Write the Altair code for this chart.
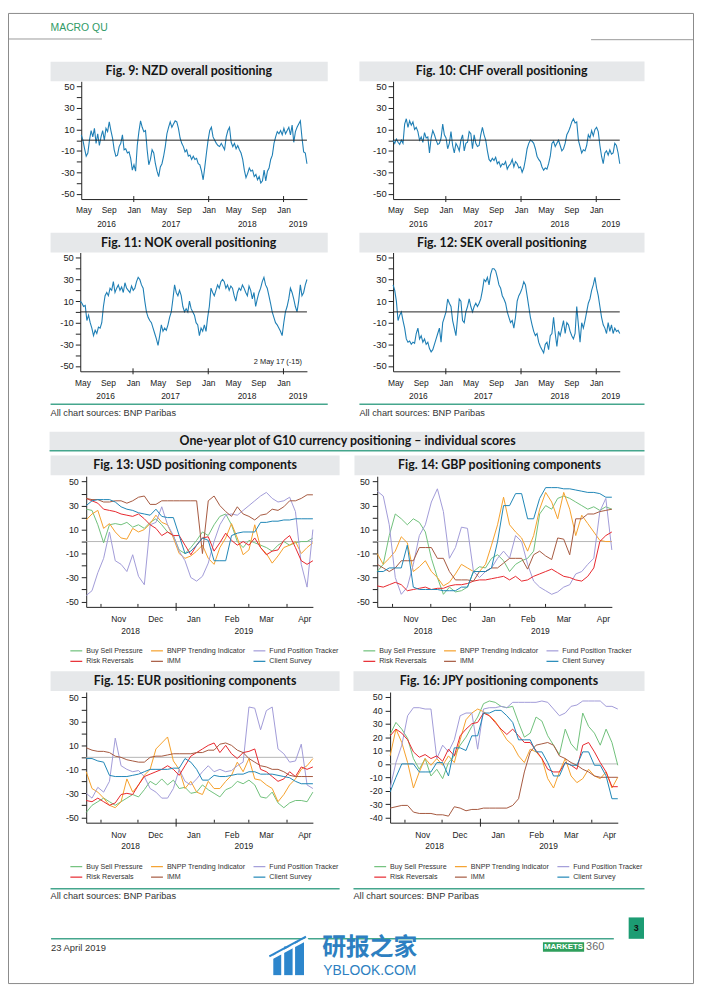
import altair as alt
import pandas as pd

# ---------------- data ----------------
OVERALL_START = "2016-04-20"
OVERALL_END = "2019-04-25"
COMP_START = "2018-10-20"
COMP_END = "2019-04-22"

nzd_values = [5, 0, -8, -15, -12, 0, 9, 3, 11, -3,
              6, -5, 3, 9, 0, 11, 8, 17, 9, 2,
              -9, -15, -14, -6, -3, 5, -9, -8, -12, -11,
              -17, -28, -23, -29, -5, 8, 18, 12, 8, 9,
              -9, -23, -18, -9, -12, -22, -29, -34, -25, -22,
              -15, -6, 6, 12, 17, 12, 15, 18, 17, 11,
              2, -3, -6, -11, -9, -15, -14, -18, -15, -18,
              -17, -22, -23, -29, -37, -25, -12, 0, 9, 12,
              3, 0, -3, -5, -6, -3, -6, -9, 3, 9,
              12, -2, -6, -3, -8, -5, -9, -12, -18, -28,
              -35, -31, -26, -29, -28, -34, -32, -37, -34, -40,
              -38, -28, -38, -29, -26, -18, -14, -3, 3, 8,
              6, 9, 5, 11, 6, 9, 12, 5, 14, -2,
              8, 12, 15, 18, 2, -11, -12, -22]

chf_values = [0, -3, 1, -2, -4, 0, -3, 15, 20, 12,
              18, 14, 17, 10, 12, 8, 0, 3, -2, 7,
              2, 3, -12, 2, 9, 5, 0, -4, -3, 2,
              15, 5, 2, -8, -3, 8, -5, -12, -3, -6,
              -10, 0, 5, -10, -3, -2, 8, 6, -8, 5,
              -3, -6, -5, 5, 12, 5, 0, -10, -18, -20,
              -17, -19, -16, -22, -20, -25, -22, -23, -20, -27,
              -24, -22, -18, -25, -20, -22, -26, -25, -30, -26,
              -18, -8, -3, 0, -1, -3, -8, -15, -18, -20,
              -25, -28, -26, -27, -22, -15, -3, -1, -6, -3,
              0, -5, -10, -8, -3, 5, 8, 12, 17, 20,
              16, 17, 0, -6, -12, -9, -10, -5, 5, 2,
              9, 4, 10, 12, 8, -5, -15, -22, -12, -10,
              -14, -9, -13, -12, -3, -5, -12, -22]

nok_values = [10, 8, 5, 6, -8, -3, -10, -15, -22, -17,
              -20, -14, -15, -10, 5, 15, 18, 15, 22, 20,
              28, 18, 22, 25, 20, 23, 18, 27, 22, 20,
              18, 24, 20, 22, 28, 32, 30, 25, 22, 10,
              0, -5, -8, -10, -15, -20, -25, -31, -22, -12,
              -18, -15, -17, -12, -5, 0, 12, 25, 18, 15,
              20, 15, 5, 0, 3, 0, 10, 3, 0, -3,
              -10, -12, -22, -15, -18, -12, -18, -5, 5, 22,
              18, 15, 20, 25, 22, 28, 30, 28, 22, 25,
              20, 24, 22, 15, 10, 18, 22, 20, 25, 22,
              18, 15, 24, 20, 12, 18, 5, 12, 18, 22,
              28, 32, 25, 22, 15, 8, 0, -5, -10, -12,
              -15, -18, -22, -10, 0, 5, 12, 22, 18, 12,
              5, 0, 10, 25, 15, 18, 25, 30]

sek_values = [25, 20, 10, -8, -3, 0, -8, -15, -25, -28,
              -27, -30, -28, -29, -20, -15, -25, -22, -28, -25,
              -30, -28, -34, -37, -35, -30, -25, -20, -15, -28,
              -10, -5, 0, 12, 8, 5, -8, -15, -22, -5,
              12, 10, -8, -10, 0, 5, 12, 5, 0, 5,
              8, 5, 8, 12, 20, 30, 28, 32, 25, 35,
              40, 40, 38, 32, 25, 22, 15, 12, 8, 0,
              -5, -10, -8, -15, -5, 10, 15, 18, 22, 28,
              25, 15, 5, -5, -12, -18, -22, -20, -28, -32,
              -35, -38, -30, -28, -35, -22, -20, -5, -20, -32,
              -18, -22, -15, -8, -20, -10, -12, -18, -22, -25,
              -20, 5, -12, -28, -10, -15, -8, 0, 8, 12,
              20, 25, 32, 22, 15, 5, -5, -12, -15, -20,
              -10, -18, -12, -20, -15, -18, -17, -20]

overall_month_ticks = ["2016-05-01", "2016-09-01", "2017-01-01", "2017-05-01", "2017-09-01",
                       "2018-01-01", "2018-05-01", "2018-09-01", "2019-01-01"]
overall_year_labels = ["2016", "2017", "2018", "2019"]
overall_year_dates = ["2016-08-21", "2017-07-02", "2018-07-08", "2019-03-13"]
overall_jan_ticks = ["2017-01-01", "2018-01-01", "2019-01-01"]

comp_month_ticks = ["2018-11-15", "2018-12-15", "2019-01-15", "2019-02-15", "2019-03-15", "2019-04-15"]
comp_month_starts = ["2018-11-01", "2018-12-01", "2019-02-01", "2019-03-01", "2019-04-01"]
comp_jan_ticks = ["2019-01-01"]
comp_year_labels = ["2018", "2019"]
comp_year_dates = ["2018-11-25", "2019-02-25"]

comp_names = ["Buy Sell Pressure", "BNPP Trending Indicator", "Fund Position Tracker",
              "Risk Reversals", "IMM", "Client Survey"]
comp_colors = ["#6fc07a", "#f5a02a", "#a19bd8", "#e7262d", "#a5583f", "#1e86b6"]
# legend entries fill column by column: order them so rows read as in the reference
legend_order = [0, 3, 1, 4, 2, 5]

usd_bsp = [27, 26, 14, -1, 14, 15, 14, 16, 12, 14, 11, 16, 19, 14, 8, 5, -7, -10, -5, 1,
           8, 5, 14, 21, 23, 14, 0, -5, 1, -1, -3, -5, -8, -3, 0, -3, -1, 0, 0, 3]
usd_bnpp = [18, 23, 26, 11, 15, 8, 3, 2, 11, 8, 10, 15, 22, 16, 14, 3, -10, -14, -12, -8,
            -3, -14, -19, -5, 3, 15, 3, -11, -7, 14, -5, -10, -18, -12, -5, -3, 0, -10, -5, -1]
usd_fpt = [-45, -41, -26, -14, 8, -16, -19, -25, -11, -29, -36, 14, 16, 29, 14, 5, -8, -16, -30, -33,
           -29, -18, 0, 14, 22, 23, 22, 26, 30, 34, 38, 41, 36, 33, 34, 37, 25, -19, -38, 10]
usd_rr = [36, 34, 32, 27, 26, 25, 23, 22, 21, 23, 19, 14, 11, 5, 8, 5, 5, -3, -11, -3,
          3, 4, -8, -1, 7, 1, -3, 0, -3, 3, -5, -11, -8, -7, 1, 5, -5, -16, -19, -16]
usd_imm = [36, 35, 35, 33, 33, 34, 34, 32, 34, 37, 38, 31, 31, 34, 34, 34, 34, 34, 34, 34,
           -10, 34, 38, 30, 25, 21, 29, 23, 21, 18, 22, 23, 27, 26, 29, 34, 34, 36, 39, 39]
usd_cs = [30, 34, 35, 35, 35, 33, 29, 27, 26, 24, 23, 22, 27, 21, 20, 20, 5, -10, -8, -3,
          3, 1, -16, -16, -16, 5, 7, 8, 8, 8, 16, 16, 17, 17, 18, 18, 19, 19, 19, 19]

gbp_bsp = [-25, -19, 5, 23, 19, 14, 19, 16, 8, -14, -30, -44, -38, -42, -41, -38, -25, -21, -22, -14,
           -11, -16, -25, -19, -16, -14, -8, 23, 30, 27, 36, 38, 36, 33, 30, 27, 29, 26, 29, 27]
gbp_bnpp = [-10, -19, -14, -8, 4, -1, -25, -21, -16, -25, -30, -37, -34, -27, -19, -22, -25, -25, -19, -3,
            14, 37, 14, 8, 3, -8, 5, 27, 41, 33, 19, 41, 27, 5, 22, 15, 8, 1, 0, 0]
gbp_fpt = [42, 38, 14, -30, -44, -38, -19, 5, 14, 33, 44, 25, -14, -5, 12, 11, -25, -30, -25, -22,
           -14, -8, -14, 5, 0, -19, -33, -38, -41, -44, -42, -38, -36, -27, -25, -19, -14, 25, 36, -7]
gbp_rr = [-37, -38, -36, -34, -36, -41, -40, -39, -38, -40, -39, -39, -37, -36, -36, -35, -33, -32, -32, -31,
          -30, -29, -32, -29, -33, -32, -29, -27, -25, -23, -26, -29, -30, -32, -33, -29, -22, 0, 5, 8]
gbp_imm = [-19, -22, -25, -22, -16, -16, -16, -5, -5, -5, -14, -14, -25, -32, -32, -32, -33, -25, -25, -22,
           -22, -18, -14, -14, -14, -23, -11, -8, -12, -15, 3, 2, -11, 19, 19, 23, 23, 25, 26, 27]
gbp_cs = [-25, -25, -22, -22, -22, -3, -38, -40, -40, -40, -40, -41, -41, -41, -38, -38, -25, -25, -25, -22,
          0, 30, 30, 40, 40, 19, 19, 36, 45, 45, 45, 44, 44, 43, 42, 41, 41, 40, 37, 37]

eur_bsp = [-46, -40, -37, -34, -37, -40, -37, -34, -31, -33, -27, -20, -23, -18, -23, -19, -26, -25, -30, -29,
           -23, -27, -30, -33, -27, -25, -20, -22, -19, -23, -33, -34, -29, -38, -42, -38, -36, -36, -37, -29]
eur_bnpp = [-12, -26, -29, -34, -40, -42, -37, -18, -29, -23, -15, -10, 7, 12, 17, -3, -10, -26, -20, -29,
            -31, -20, -26, -26, -20, -15, -4, -12, -1, -18, -19, -23, -26, -37, -31, -23, -18, -10, -7, -1]
eur_fpt = [-30, -34, -25, -29, -20, 16, -7, -10, -12, -11, -16, -26, -29, -34, -34, -26, -10, -20, -23, -18,
           -12, -7, -12, -10, -12, -11, -7, -4, 42, 41, 23, 39, 42, 7, 3, -4, -3, 11, -23, -26]
eur_rr = [-36, -37, -34, -37, -40, -38, -31, -30, -31, -23, -16, -14, -12, -10, -7, -10, -15, -7, 1, 4,
          7, 10, 12, 4, 10, 3, -1, 4, 5, 7, -10, -12, -16, -20, -18, -12, -16, -8, -10, -8]
eur_imm = [8, 6, 5, 5, 4, 1, 0, -2, -3, -4, -4, 0, 1, 1, 2, 3, 3, 3, 3, 4,
           4, 6, 6, 11, 12, 10, 6, 4, -1, -4, -7, -8, -10, -10, -12, -15, -16, -16, -16, -16]
eur_cs = [-1, -1, -3, -4, -15, -16, -16, -16, -15, -14, -12, -10, -10, -10, -10, -9, -9, -1, -4, -10,
          -19, -19, -15, -16, -16, -15, -14, -14, -12, -12, -14, -14, -14, -15, -16, -17, -20, -22, -22, -22]

jpy_bsp = [22, 31, 26, 19, 4, -4, 4, -9, -4, -11, 1, 6, 14, 20, 28, 35, 45, 47, 46, 43,
           42, 43, 31, 20, 23, 35, 32, 21, 14, 7, 26, 15, 10, 38, 28, 23, 14, 26, 16, -1]
jpy_bnpp = [6, 26, 16, 1, -18, -6, 4, -1, 4, -1, 6, 1, 18, 33, 38, 41, 39, 36, 32, 25,
            18, 14, 6, 1, 11, 9, 4, -11, -18, -6, 4, -9, -14, -11, -4, -9, -11, -6, -18, -10]
jpy_fpt = [-18, 1, 14, 36, 42, 42, 41, 41, 4, 14, 9, 18, 36, 38, 38, 11, 41, 42, 42, 43,
           42, 46, 46, 46, 46, 46, 47, 46, 41, 36, 38, 43, 44, 47, 47, 47, 47, 43, 43, 41]
jpy_rr = [21, 26, 23, 18, 9, 5, 7, 4, 6, 2, 11, 6, 21, 26, 30, 31, 38, 36, 31, 26,
          22, 26, 21, 16, 16, 10, 4, -4, -6, -6, 1, -1, -4, 14, 16, 9, 1, -6, -17, -17]
jpy_imm = [-33, -32, -31, -31, -36, -37, -37, -37, -38, -38, -39, -32, -33, -35, -34, -34, -33, -33, -33, -33,
           -33, -31, -26, -6, 9, 14, 15, 16, 14, 6, 4, 1, -1, -4, -6, -9, -10, -10, -10, -10]
jpy_cs = [-21, -10, 0, 0, 0, -6, -6, -6, 1, 1, -9, 12, 12, 10, 21, 21, 38, 38, 40, 40,
          36, 31, 18, 18, 18, 9, 9, 1, -9, -9, 1, -1, -1, 9, 9, -1, -1, -9, -26, -26]

titles = ["Fig. 9: NZD overall positioning", "Fig. 10: CHF overall positioning",
          "Fig. 11: NOK overall positioning", "Fig. 12: SEK overall positioning",
          "Fig. 13: USD positioning components", "Fig. 14: GBP positioning components",
          "Fig. 15: EUR positioning components", "Fig. 16: JPY positioning components"]
section_title = "One-year plot of G10 currency positioning \u2013 individual scores"
source_text = "All chart sources: BNP Paribas"

# ---------------- styling ----------------
AX_FONT = "Liberation Sans"
TITLE_FONT = "Lato"
INK = "#222222"
BOX_FILL = "#e6e8ea"
TEAL = "#45a68d"
LINE_BLUE = "#1f7fb5"


def dt(s):
    y, m, d = (int(p) for p in s.split("-"))
    return alt.DateTime(year=y, month=m, date=d)


def one(text=""):
    return pd.DataFrame({"t": [text]})


def d_rect(o, x1, y1, x2, y2, **kw):
    return alt.Chart(one()).mark_rect(**kw).encode(
        x=alt.value(x1 - o[0]), x2=alt.value(x2 - o[0]),
        y=alt.value(y1 - o[1]), y2=alt.value(y2 - o[1]))


def d_rule(o, x1, y1, x2, y2, **kw):
    return alt.Chart(one()).mark_rule(**kw).encode(
        x=alt.value(x1 - o[0]), x2=alt.value(x2 - o[0]),
        y=alt.value(y1 - o[1]), y2=alt.value(y2 - o[1]))


def d_text(o, x, y, text, **kw):
    kw.setdefault("baseline", "middle")
    return alt.Chart(one(text)).mark_text(**kw).encode(
        x=alt.value(x - o[0]), y=alt.value(y - o[1]), text="t:N")


def title_box(o, x1, x2, y1, y2, tx, text):
    return [d_rect(o, x1, y1, x2, y2, color=BOX_FILL),
            d_text(o, tx, (y1 + y2) / 2, text, font=TITLE_FONT, fontWeight="bold",
                   fontSize=12.5, color="#151515")]


def sources(o, x1, x2, y_line, y_text):
    return [d_rule(o, x1, y_line, x2, y_line, color=TEAL, strokeWidth=1.5),
            d_text(o, x1, y_text, source_text, align="left", font=AX_FONT,
                   fontSize=9.3, color="#333333")]


def x_axis_def(month_values, pad):
    return alt.Axis(values=[dt(s) for s in month_values], format="%b", formatType="time",
                    labelAngle=0, ticks=False, grid=False, title=None, domainColor=INK,
                    domainWidth=1, labelColor=INK, labelFont=AX_FONT, labelFontSize=8.5,
                    labelPadding=pad, labelFlush=False, labelOverlap=False, labelBound=False)


def y_axis_def(values, expr, pad, size):
    return alt.Axis(values=values, labelExpr=expr, tickSize=5, tickColor=INK, tickWidth=1,
                    domainColor=INK, domainWidth=1, grid=False, title=None, labelFont=AX_FONT,
                    labelFontSize=size, labelColor=INK, labelPadding=pad)


def overall_panel(vals, w, h, deco):
    dates = pd.date_range(OVERALL_START, OVERALL_END, periods=len(vals))
    df = pd.DataFrame({"date": dates, "value": vals})
    xs = alt.Scale(domain=[dt(OVERALL_START), dt(OVERALL_END)])
    ys = alt.Scale(domain=[-55, 55], nice=False, zero=False)
    xa = x_axis_def(overall_month_ticks, 7)
    ya = y_axis_def(list(range(-50, 51, 10)),
                    "datum.value % 20 == 0 ? '' : toString(datum.value)", 2, 9.5)
    line = alt.Chart(df).mark_line(color=LINE_BLUE, strokeWidth=1.1).encode(
        x=alt.X("date:T", scale=xs, axis=xa),
        y=alt.Y("value:Q", scale=ys, axis=ya))
    zero = alt.Chart(pd.DataFrame({"value": [0]})).mark_rule(color=INK, strokeWidth=1).encode(
        y=alt.Y("value:Q", scale=ys, axis=ya))
    jan = alt.Chart(pd.DataFrame({"date": pd.to_datetime(overall_jan_ticks)})).mark_rule(
        color=INK).encode(x=alt.X("date:T", scale=xs, axis=xa),
                          y=alt.value(h - 3), y2=alt.value(h + 3))
    years = alt.Chart(pd.DataFrame({"date": pd.to_datetime(overall_year_dates),
                                    "label": overall_year_labels})).mark_text(
        font=AX_FONT, fontSize=8.5, color=INK, baseline="middle").encode(
        x=alt.X("date:T", scale=xs, axis=xa), y=alt.value(h + 25), text="label:N")
    return alt.layer(line, zero, jan, years, *deco).properties(width=w, height=h)


def comp_panel(series, w, h, ydom, yvals, label_all, legend_x, deco):
    dates = pd.date_range(COMP_START, COMP_END, periods=len(series[0]))
    rows = []
    for name, vals in zip(comp_names, series):
        for d, v in zip(dates, vals):
            rows.append({"date": d, "series": name, "value": v})
    df = pd.DataFrame(rows)
    xs = alt.Scale(domain=[dt(COMP_START), dt(COMP_END)])
    ys = alt.Scale(domain=ydom, nice=False, zero=False)
    xa = x_axis_def(comp_month_ticks, 8)
    lab = "toString(datum.value)" if label_all else \
        "datum.value % 20 == 0 ? '' : toString(datum.value)"
    ya = y_axis_def(yvals, lab, 3, 9)
    legend = alt.Legend(orient="none", legendX=legend_x, legendY=169, columns=3, title=None,
                        symbolType="stroke", symbolSize=144, symbolStrokeWidth=1.2,
                        labelFont=AX_FONT, labelFontSize=7.2, labelColor="#333333",
                        labelOffset=3, columnPadding=4.5, rowPadding=0, padding=0)
    zero = alt.Chart(pd.DataFrame({"value": [0]})).mark_rule(color="#b5b5b5", strokeWidth=1).encode(
        y=alt.Y("value:Q", scale=ys, axis=ya))
    dom = [comp_names[i] for i in legend_order]
    rng = [comp_colors[i] for i in legend_order]
    line = alt.Chart(df).mark_line(strokeWidth=1).encode(
        x=alt.X("date:T", scale=xs, axis=xa),
        y=alt.Y("value:Q", scale=ys, axis=ya),
        color=alt.Color("series:N", scale=alt.Scale(domain=dom, range=rng),
                        sort=dom, legend=legend))
    mticks = alt.Chart(pd.DataFrame({"date": pd.to_datetime(comp_month_starts)})).mark_rule(
        color=INK).encode(x=alt.X("date:T", scale=xs, axis=xa),
                          y=alt.value(h - 3), y2=alt.value(h))
    jan = alt.Chart(pd.DataFrame({"date": pd.to_datetime(comp_jan_ticks)})).mark_rule(
        color=INK).encode(x=alt.X("date:T", scale=xs, axis=xa),
                          y=alt.value(h - 4), y2=alt.value(h + 4))
    years = alt.Chart(pd.DataFrame({"date": pd.to_datetime(comp_year_dates),
                                    "label": comp_year_labels})).mark_text(
        font=AX_FONT, fontSize=8.5, color=INK, baseline="middle").encode(
        x=alt.X("date:T", scale=xs, axis=xa), y=alt.value(h + 24), text="label:N")
    return alt.layer(zero, line, mticks, jan, years, *deco).properties(width=w, height=h)


# ---------------- panels ----------------
O9, O10, O11, O12 = (82, 77), (397, 77), (81, 250), (397, 250)
O13, O14, O15, O16 = (87, 476), (381, 476), (87, 694), (394, 694)

page_deco = [
    d_rect(O9, 8.5, 8.5, 700.5, 988.5, filled=False, stroke="#8a8a8a", strokeWidth=1),
    d_text(O9, 51, 23.5, "MACRO QU", align="left", font=AX_FONT, fontSize=10.5, color="#2f9a66"),
    d_rule(O9, 9, 34.3, 103, 34.3, color="#9a9a9a", strokeWidth=1),
    d_rule(O9, 597, 35, 700, 35, color="#9a9a9a", strokeWidth=1),
    d_rule(O9, 51.5, 943.3, 620, 943.3, color=TEAL, strokeWidth=1.5),
    d_text(O9, 51.5, 952.7, "23 April 2019", align="left", font=AX_FONT, fontSize=9.5,
           color="#333333"),
    d_rect(O9, 635, 921.7, 650.5, 943.3, color="#1c9c73"),
    d_text(O9, 642.7, 932.5, "3", font=AX_FONT, fontWeight="bold", fontSize=9, color="#111111"),
    d_rect(O9, 548.4, 946.7, 590, 956.5, color="#2f9f5c"),
    d_text(O9, 569.2, 951.8, "MARKETS", font=AX_FONT, fontWeight="bold", fontSize=8,
           color="white"),
    d_text(O9, 592, 951.8, "360", align="left", font=AX_FONT, fontSize=11, color="#6a6a6a"),
    d_rect(O9, 276, 959, 284, 980, color="#2d86cc"),
    d_rect(O9, 287, 951, 295.5, 980, color="#2d86cc"),
    d_rect(O9, 298, 946, 307, 980, color="#2d86cc"),
    d_rule(O9, 272, 964, 311, 943, color="white", strokeWidth=3),
    d_rule(O9, 272, 961, 309, 941, color="#2d86cc", strokeWidth=2),
    d_text(O9, 373.5, 952.5, "研报之家", font="Noto Sans CJK SC", fontWeight="bold",
           fontSize=24, color="#2d7fc1"),
    d_text(O9, 373.5, 975.5, "YBLOOK.COM", font=AX_FONT, fontSize=14, color="#2d7fc1"),
]

fig9 = overall_panel(nzd_values, 228, 119,
                     title_box(O9, 51, 331, 57.3, 77, 190.7, titles[0]) + page_deco)
fig10 = overall_panel(chf_values, 229, 119,
                      title_box(O10, 363, 651, 57, 77, 506.7, titles[1]))
fig11 = overall_panel(nok_values, 229, 120,
                      title_box(O11, 51, 331, 230, 250, 190.5, titles[2])
                      + sources(O11, 51, 331, 403.3, 411.7)
                      + [d_text(O11, 305, 361, "2 May 17 (-15)", align="right", font=AX_FONT,
                                fontSize=7.5, color="#222222")])
fig12 = overall_panel(sek_values, 229, 120,
                      title_box(O12, 363, 651, 230, 250, 506.8, titles[3])
                      + sources(O12, 363, 651, 403.3, 411.7))

section_deco = [
    d_rect(O13, 50, 431, 651, 450, color=BOX_FILL),
    d_rule(O13, 50, 450.3, 651, 450.3, color=TEAL, strokeWidth=1.5),
    d_text(O13, 351, 440.5, section_title, font=TITLE_FONT, fontWeight="bold", fontSize=12.5,
           color="#151515"),
]

Y5 = list(range(-50, 51, 10))
fig13 = comp_panel([usd_bsp, usd_bnpp, usd_fpt, usd_rr, usd_imm, usd_cs], 229, 132,
                   [-54.5, 54.5], Y5, False, -17,
                   title_box(O13, 51, 343, 455, 475, 197, titles[4]) + section_deco)
fig14 = comp_panel([gbp_bsp, gbp_bnpp, gbp_fpt, gbp_rr, gbp_imm, gbp_cs], 237, 132,
                   [-54.5, 54.5], Y5, False, -15,
                   title_box(O14, 358, 651, 455, 475, 504.5, titles[5]))
fig15 = comp_panel([eur_bsp, eur_bnpp, eur_fpt, eur_rr, eur_imm, eur_cs], 229, 132,
                   [-54.5, 54.5], Y5, False, -17,
                   title_box(O15, 51, 343, 673, 693, 197, titles[6])
                   + sources(O15, 51, 343, 892.7, 900))
fig16 = comp_panel([jpy_bsp, jpy_bnpp, jpy_fpt, jpy_rr, jpy_imm, jpy_cs], 230, 132,
                   [-43.9, 53.7], list(range(-40, 51, 10)), True, -17,
                   title_box(O16, 357, 651, 673, 693, 504, titles[7])
                   + sources(O16, 357, 651, 892.7, 900))


def spacer(w, h):
    return alt.Chart(one()).mark_point(opacity=0, size=1).properties(width=w, height=h)


def row(*charts):
    return alt.hconcat(*charts, spacing=0, bounds="flush").resolve_scale(
        color="independent").resolve_legend(color="independent")


# nested rows count as zero height in the flush layout, so each vertical spacer
# covers the row above it plus the gap below it
chart = alt.vconcat(
    row(spacer(1, 1), fig9, spacer(87, 1), fig10),
    spacer(1, 119 + 54),
    row(fig11, spacer(87, 1), fig12),
    spacer(1, 120 + 106),
    row(spacer(6, 1), fig13, spacer(65, 1), fig14),
    spacer(1, 132 + 86),
    row(spacer(6, 1), fig15, spacer(78, 1), fig16),
    spacing=0, bounds="flush",
).resolve_scale(color="independent").resolve_legend(color="independent").properties(
    padding=0, background="white"
).configure_view(stroke=None)

chart.save("out.html", embed_options={"renderer": "svg", "actions": False})
